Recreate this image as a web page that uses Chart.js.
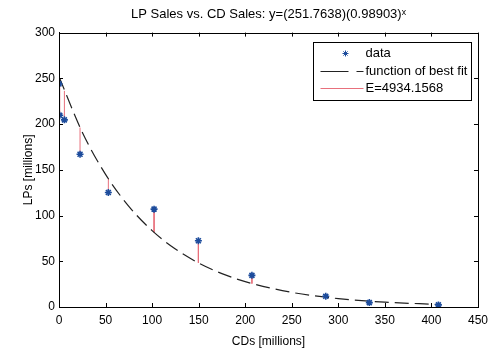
<!DOCTYPE html>
<html>
<head>
<meta charset="utf-8">
<script src="https://cdn.jsdelivr.net/npm/chart.js@4.4.1/dist/chart.umd.min.js"></script>
<style>
  html, body { margin: 0; padding: 0; background: #fff; }
  #wrap { width: 494px; height: 349px; }
</style>
</head>
<body>
<div id="wrap"><canvas id="lpChart" width="494" height="349"></canvas></div>
<script>
// CD sales vs LP sales (millions of units)
const cdSales = [0, 0.8, 5.8, 22.6, 53, 102.1, 149.7, 207.2, 286.5, 333.3, 407.5];
const lpSales = [243.9, 209.6, 204.6, 167.0, 125.2, 107.0, 72.4, 34.6, 11.7, 4.8, 2.3];
// best-fit curve value at each data x (end of the red error bars)
const fitAtData = [251.8, 249.6, 236.3, 196.2, 140.3, 81.6, 48.3, 25.6, 10.7, 6.4, 2.8];
// best-fit curve
const fitX = [0, 25, 50, 75, 100, 125, 150, 175, 200, 250, 300, 350, 405];
const fitY = [251.8, 191.1, 145.0, 110.1, 83.5, 63.4, 48.1, 36.5, 27.7, 16.0, 9.2, 5.3, 2.9];
const xTicks = [0, 50, 100, 150, 200, 250, 300, 350, 400, 450];
const yTicks = [0, 50, 100, 150, 200, 250, 300];
const legendLabels = ['data', 'function of best fit', 'E=4934.1568'];

const FONT = 'Liberation Sans, Arial, sans-serif';
const BLUE = '#1d4c9c';
const RED = '#e8707c';

const dataPts = cdSales.map((x, i) => ({x: x, y: lpSales[i]}));
const fitPts = fitX.map((x, i) => ({x: x, y: fitY[i]}));
const errPts = [];
cdSales.forEach((x, i) => {
    errPts.push({x: x, y: lpSales[i]});
    errPts.push({x: x, y: fitAtData[i]});
    errPts.push({x: x, y: null});
});

// matlab style box, inward ticks and the legend inside the axes
const boxPlugin = {
    id: 'matlabBox',
    afterDatasetsDraw(chart) {
        const ctx = chart.ctx;
        const a = chart.chartArea;
        const xs = chart.scales.x, ys = chart.scales.y;
        ctx.save();
        ctx.strokeStyle = '#000';
        ctx.lineWidth = 1;
        ctx.strokeRect(Math.round(a.left) + 0.5, Math.round(a.top) + 0.5,
            Math.round(a.right - a.left), Math.round(a.bottom - a.top));
        ctx.beginPath();
        xTicks.forEach(v => {
            const px = Math.round(xs.getPixelForValue(v)) + 0.5;
            ctx.moveTo(px, a.bottom); ctx.lineTo(px, a.bottom - 4);
            ctx.moveTo(px, a.top); ctx.lineTo(px, a.top + 4);
        });
        yTicks.forEach(v => {
            const py = Math.round(ys.getPixelForValue(v)) + 0.5;
            ctx.moveTo(a.left, py); ctx.lineTo(a.left + 4, py);
            ctx.moveTo(a.right, py); ctx.lineTo(a.right - 4, py);
        });
        ctx.stroke();

        // legend
        const w = 158, h = 58;
        const lx = Math.round(a.right - 7 - w) + 0.5, ly = Math.round(a.top + 9) + 0.5;
        ctx.fillStyle = '#fff';
        ctx.fillRect(lx, ly, w, h);
        ctx.strokeStyle = '#000';
        ctx.strokeRect(lx, ly, w, h);
        ctx.font = '13px ' + FONT;
        ctx.textBaseline = 'middle';
        const rowY = [ly + 11, ly + 29, ly + 46];
        const s0 = lx + 7;
        // data marker
        ctx.fillStyle = BLUE;
        ctx.strokeStyle = BLUE;
        Chart.helpers.drawPoint(ctx, {pointStyle: 'star', radius: 3, borderWidth: 1.5}, lx + 32, rowY[0]);
        // fit line: long dash then short dash
        ctx.strokeStyle = '#222';
        ctx.lineWidth = 1;
        ctx.beginPath();
        ctx.moveTo(s0, rowY[1]); ctx.lineTo(lx + 35, rowY[1]);
        ctx.moveTo(lx + 43, rowY[1]); ctx.lineTo(lx + 50, rowY[1]);
        ctx.stroke();
        // error line
        ctx.strokeStyle = RED;
        ctx.beginPath(); ctx.moveTo(s0, rowY[2]); ctx.lineTo(lx + 50, rowY[2]); ctx.stroke();
        ctx.fillStyle = '#000';
        ctx.fillText(legendLabels[0], lx + 52, rowY[0]);
        ctx.fillText(legendLabels[1], lx + 52, rowY[1]);
        ctx.fillText(legendLabels[2], lx + 52, rowY[2]);
        ctx.restore();
    }
};

new Chart(document.getElementById('lpChart'), {
    type: 'scatter',
    data: {
        datasets: [
            {
                label: legendLabels[2],
                data: errPts,
                showLine: true,
                spanGaps: false,
                borderColor: RED,
                borderWidth: 1,
                pointRadius: 0,
                order: 3
            },
            {
                label: legendLabels[1],
                data: fitPts,
                showLine: true,
                borderColor: '#222',
                borderWidth: 1.2,
                borderDash: [14, 6],
                cubicInterpolationMode: 'monotone',
                pointRadius: 0,
                order: 2
            },
            {
                label: legendLabels[0],
                data: dataPts,
                pointStyle: 'star',
                pointRadius: 3.5,
                borderWidth: 1.6,
                borderColor: BLUE,
                backgroundColor: BLUE,
                order: 1
            }
        ]
    },
    plugins: [boxPlugin],
    options: {
        responsive: false,
        animation: false,
        layout: {padding: {left: 0, right: 14, top: 0, bottom: 0}},
        plugins: {
            legend: {display: false},
            tooltip: {enabled: false},
            title: {
                display: true,
                fullSize: false,
                text: 'LP Sales vs. CD Sales: y=(251.7638)(0.98903)ˣ',
                color: '#000',
                font: {family: FONT, size: 13, weight: 'normal'},
                padding: {top: 7, bottom: 10}
            }
        },
        scales: {
            x: {
                type: 'linear',
                min: 0,
                max: 450,
                afterBuildTicks: s => { s.ticks = xTicks.map(v => ({value: v})); },
                afterFit: s => { s.height = 42; },
                grid: {display: false, drawTicks: false},
                border: {display: true, color: '#000'},
                ticks: {color: '#000', padding: 6, maxRotation: 0, font: {family: FONT, size: 12}},
                title: {display: true, text: 'CDs [millions]', color: '#000', padding: {top: 0, bottom: 0},
                    font: {family: FONT, size: 12}}
            },
            y: {
                min: 0,
                max: 300,
                afterBuildTicks: s => { s.ticks = yTicks.map(v => ({value: v})); },
                afterFit: s => { s.width = 59; },
                grid: {display: false, drawTicks: false},
                border: {display: true, color: '#000'},
                ticks: {color: '#000', padding: 4, font: {family: FONT, size: 12}},
                title: {display: true, text: 'LPs [millions]', color: '#000', padding: {top: 21, bottom: 0},
                    font: {family: FONT, size: 12}}
            }
        }
    }
});
</script>
</body>
</html>
